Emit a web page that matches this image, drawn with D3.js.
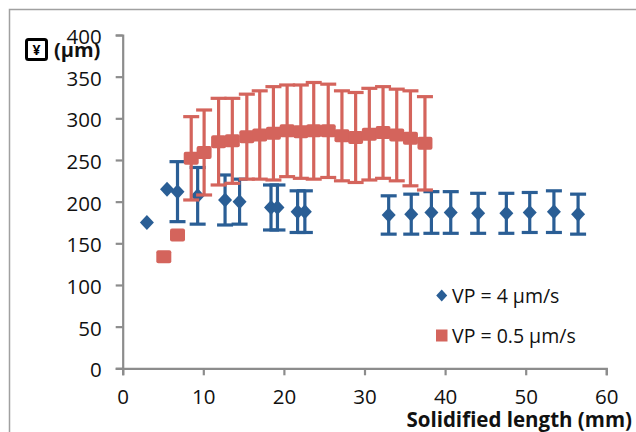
<!DOCTYPE html>
<html>
<head>
<meta charset="utf-8">
<script src="https://cdn.jsdelivr.net/npm/d3@7"></script>
<style>
  body { margin: 0; background: #fff; }
  svg { display: block; font-family: "Open Sans", sans-serif; }
</style>
</head>
<body>
<svg width="636" height="432"></svg>
<script>
// Series values
var fastX   = [3.0, 5.5, 6.8, 9.3, 12.7, 14.5, 18.4, 19.2, 21.7, 22.6, 33.0, 35.8, 38.3, 40.7, 44.1, 47.6, 50.5, 53.5, 56.5];
var fastY   = [175, 215, 212, 207, 202, 200, 193, 193, 188, 188, 184, 185, 187, 187, 186, 186, 187, 188, 185];
var fastErr = [0, 0, 36, 34, 30, 27, 27, 27, 25, 25, 23, 24, 25, 25, 24, 24, 24, 25, 24];

var slowX   = [5.1, 6.8, 8.5, 10.1, 11.9, 13.6, 15.4, 17.0, 18.7, 20.4, 22.1, 23.7, 25.5, 27.2, 28.9, 30.6, 32.3, 34.0, 35.7, 37.5];
var slowY   = [134, 160, 252, 259, 272, 273, 278, 280, 282, 285, 284, 285, 285, 279, 277, 281, 283, 280, 276, 270];
var slowErr = [0, 0, 50, 51, 52, 51, 51, 53, 56, 55, 56, 58, 56, 54, 54, 55, 55, 55, 57, 56];

var xTicks = [0, 10, 20, 30, 40, 50, 60];
var yTicks = [0, 50, 100, 150, 200, 250, 300, 350, 400];

var seriesNames = ['VP = 4 \u00b5m/s', 'VP = 0.5 \u00b5m/s'];
var blue = '#2a5e95';
var red = '#d4645c';
var axisGrey = '#8c8c8c';

var svg = d3.select('svg');

// outer chart frame (runs off the right and bottom edges)
svg.append('rect')
    .attr('x', 9.5).attr('y', 9.5)
    .attr('width', 700).attr('height', 500)
    .attr('fill', 'none')
    .attr('stroke', '#a0a0a0')
    .attr('stroke-width', 1.5);

var x = d3.scaleLinear().domain([0, 60]).range([122.7, 606.3]);
var y = d3.scaleLinear().domain([0, 400]).range([368.3, 35]);

// y axis
var yAxisG = svg.append('g')
    .attr('transform', 'translate(' + x(0) + ',0)')
    .call(d3.axisLeft(y).tickValues(yTicks).tickSize(7).tickPadding(14));
// x axis
var xAxisG = svg.append('g')
    .attr('transform', 'translate(0,' + y(0) + ')')
    .call(d3.axisBottom(x).tickValues(xTicks).tickSize(7).tickPadding(14));

[yAxisG, xAxisG].forEach(function(g) {
    g.select('.domain').attr('stroke', axisGrey).attr('stroke-width', 2.2);
    g.selectAll('.tick line').attr('stroke', axisGrey).attr('stroke-width', 2.2);
    g.selectAll('.tick text')
        .attr('fill', '#111')
        .style('font-size', '20.5px')
        .style('font-family', '"Open Sans", sans-serif');
});
yAxisG.selectAll('.tick text').attr('dy', '0.42em');

// axis titles
svg.append('text')
    .attr('x', 632).attr('y', 427)
    .attr('text-anchor', 'end')
    .style('font-size', '20.5px')
    .style('font-weight', 'bold')
    .attr('fill', '#111')
    .text('Solidified length (mm)');

// missing-glyph box in front of the unit, as in the original
var lab = svg.append('g');
lab.append('rect')
    .attr('x', 26.5).attr('y', 39.5)
    .attr('width', 20).attr('height', 20)
    .attr('rx', 2)
    .attr('fill', 'none')
    .attr('stroke', '#000')
    .attr('stroke-width', 3);
lab.append('text')
    .attr('x', 36.5).attr('y', 55)
    .attr('text-anchor', 'middle')
    .style('font-size', '14px')
    .style('font-weight', 'bold')
    .text('\u00a5');
lab.append('text')
    .attr('x', 54).attr('y', 57)
    .style('font-size', '20px')
    .style('font-weight', 'bold')
    .attr('fill', '#111')
    .text('(\u00b5m)');

function diamond(cx, cy, w, h) {
    return 'M' + cx + ',' + (cy - h) + 'L' + (cx + w) + ',' + cy +
        'L' + cx + ',' + (cy + h) + 'L' + (cx - w) + ',' + cy + 'Z';
}

function drawSeries(xs, ys, errs, color, shape) {
    var pts = xs.map(function(v, i) { return {x: v, y: ys[i], e: errs[i]}; });
    var g = svg.append('g');
    var withErr = pts.filter(function(d) { return d.e > 0; });
    var eb = g.selectAll('.err').data(withErr).enter().append('g')
        .attr('stroke', color).attr('stroke-width', 3.2).attr('fill', 'none');
    eb.append('line')
        .attr('x1', function(d) { return x(d.x); })
        .attr('x2', function(d) { return x(d.x); })
        .attr('y1', function(d) { return y(d.y + d.e); })
        .attr('y2', function(d) { return y(d.y - d.e); });
    [1, -1].forEach(function(s) {
        eb.append('line')
            .attr('x1', function(d) { return x(d.x) - 8; })
            .attr('x2', function(d) { return x(d.x) + 8; })
            .attr('y1', function(d) { return y(d.y + s * d.e); })
            .attr('y2', function(d) { return y(d.y + s * d.e); });
    });
    if (shape === 'diamond') {
        g.selectAll('.pt').data(pts).enter().append('path')
            .attr('d', function(d) { return diamond(x(d.x), y(d.y), 7, 7.5); })
            .attr('fill', color);
    } else {
        g.selectAll('.pt').data(pts).enter().append('rect')
            .attr('x', function(d) { return x(d.x) - 7.5; })
            .attr('y', function(d) { return y(d.y) - 6.5; })
            .attr('width', 15).attr('height', 13)
            .attr('rx', 2)
            .attr('fill', color);
    }
}

drawSeries(fastX, fastY, fastErr, blue, 'diamond');
drawSeries(slowX, slowY, slowErr, red, 'square');

// legend
var leg = svg.append('g');
leg.append('path').attr('d', diamond(441.7, 295.5, 5.5, 6)).attr('fill', blue);
leg.append('rect').attr('x', 436).attr('y', 329.5).attr('width', 11.5).attr('height', 12).attr('fill', red);
leg.selectAll('.lt').data(seriesNames).enter().append('text')
    .attr('x', 452)
    .attr('y', function(d, i) { return 302.5 + i * 40; })
    .style('font-size', '19.5px')
    .attr('fill', '#111')
    .text(function(d) { return d; });
</script>
</body>
</html>
